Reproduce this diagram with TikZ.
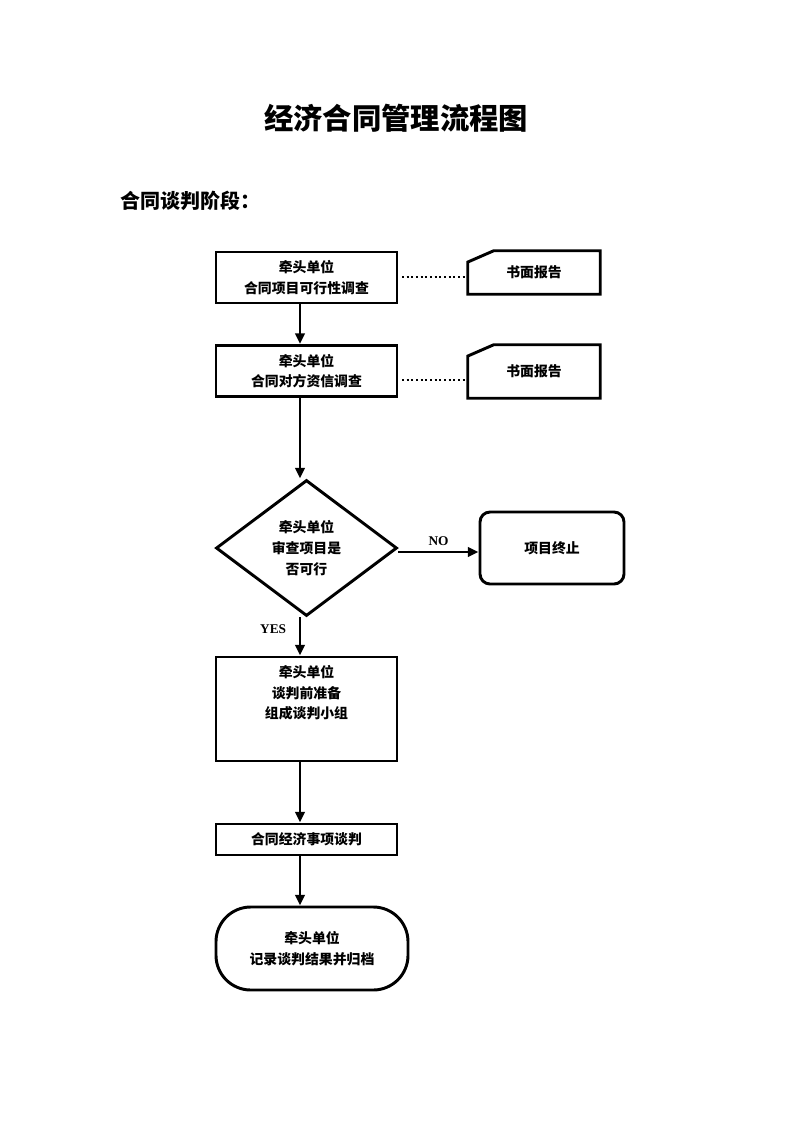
\documentclass[tikz,border=0pt]{standalone}
\usepackage{fontspec}
\setmainfont{Liberation Serif}
\newfontfamily\cjk{Noto Sans CJK SC}
\usetikzlibrary{arrows.meta,shapes.geometric}

\tikzset{
  box/.style={draw,line width=2.2pt,minimum width=135.75pt,minimum height=38.25pt,
    align=center,inner sep=0pt,font=\cjk\bfseries\fontsize{10.4}{15.5}\selectfont},
  doc/.style={inner sep=0pt,minimum width=99pt,align=center,font=\cjk\bfseries\fontsize{10.4}{15}\selectfont},
  flow/.style={line width=2.2pt,-{Triangle[length=8pt,width=7pt]}},
  link/.style={line width=1.5pt,dotted},
  tag/.style={font=\bfseries\fontsize{10}{12}\selectfont},
}

\begin{document}
\begin{tikzpicture}[x=0.75pt,y=-0.75pt]
  \useasboundingbox (0,0) rectangle (793,1122);

  % titles
  \node (title) at (396,118) {\cjk\bfseries\fontsize{22}{26}\selectfont 经济合同管理流程图};
  \node[anchor=west,inner sep=0pt] (stage) at (120,201) {\cjk\bfseries\fontsize{15}{18}\selectfont 合同谈判阶段：};

  % boxes
  \node[box] (survey) at (306.5,277.5) {牵头单位\\合同项目可行性调查};
  \node[box] (credit) at (306.5,371) {牵头单位\\合同对方资信调查};
  \node[box,shape=diamond,minimum width=135.75pt,minimum height=102pt,aspect=1.33] (check) at (306.5,548) {牵头单位\\审查项目是\\否可行};
  \node[box,rounded corners=7.5pt,minimum width=108pt,minimum height=54pt] (stop) at (552,548) {项目终止};
  \node[box,minimum height=78pt] (prep) at (306.5,709) {};
  \node[box,anchor=north] (preptxt) at (306.5,664) [draw=none,minimum height=0pt] {牵头单位\\谈判前准备\\组成谈判小组};
  \node[box,minimum height=23.25pt] (talk) at (306.5,839.5) {合同经济事项谈判};
  \node[box,minimum width=144pt,minimum height=62.25pt,rounded corners=26pt] (record) at (312,948.5) {牵头单位\\记录谈判结果并归档};

  % written reports
  \node[doc,minimum height=32.25pt] (rep1) at (534,272.5) {书面报告};
  \node[doc,minimum height=39.75pt] (rep2) at (534,371.5) {书面报告};
  \foreach \r in {rep1,rep2}
    \draw[line width=2.2pt] (\r.south west) -- ([yshift=-8.5pt]\r.north west)
      -- ([xshift=19.5pt]\r.north west) -- (\r.north east) -- (\r.south east) -- cycle;

  \coordinate (dot1) at (402,277);
  \coordinate (dot2) at (402,380);
  \draw[link] (dot1) -- (dot1 -| rep1.west);
  \draw[link] (dot2) -- (dot2 -| rep2.west);

  % arrows
  \coordinate (axis) at (300,0);
  \coordinate (side) at (0,552);
  \draw[flow] (survey.south -| axis) -- (credit.north -| axis);
  \draw[flow] (credit.south -| axis) -- (check.north -| axis);
  \draw[flow] (check.east |- side) -- node[above,tag] {NO} (stop.west |- side);
  \draw[flow] (check.south -| axis) -- node[left,pos=0.3,xshift=-6pt,tag] {YES} (prep.north -| axis);
  \draw[flow] (prep.south -| axis) -- (talk.north -| axis);
  \draw[flow] (talk.south -| axis) -- (record.north -| axis);
\end{tikzpicture}
\end{document}
